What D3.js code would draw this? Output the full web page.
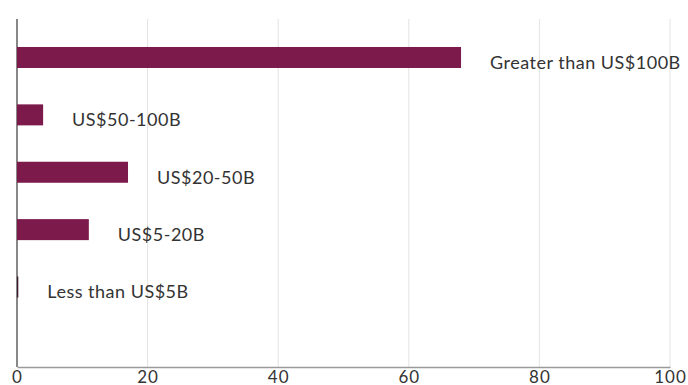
<!DOCTYPE html>
<html>
<head>
<meta charset="utf-8">
<script src="https://cdn.jsdelivr.net/npm/d3@7"></script>
<style>
  body { margin: 0; background: #fff; }
  text { font-family: "Lato", "Open Sans", sans-serif; }
</style>
</head>
<body>
<script>
// data
const categories = ["Greater than US$100B", "US$50-100B", "US$20-50B", "US$5-20B", "Less than US$5B"];
const values = [68, 4, 17, 11, 0.2];
const tickValues = [0, 20, 40, 60, 80, 100];

const width = 688, height = 385;
const svg = d3.select("body").append("svg")
    .attr("width", width)
    .attr("height", height);

const x = d3.scaleLinear().domain([0, 100]).range([17, 670]);
const y = d3.scaleBand().domain(categories)
    .range([28.8, 315.7])
    .paddingInner(0.634)
    .paddingOuter(0.317);

const plotTop = 19, plotBottom = 367;

// gridlines
svg.append("g").selectAll("line")
    .data(tickValues.slice(1))
    .enter().append("line")
    .attr("x1", d => x(d)).attr("x2", d => x(d))
    .attr("y1", plotTop).attr("y2", plotBottom)
    .attr("stroke", "#e3e3e3")
    .attr("stroke-width", 1);

// x axis
const xAxis = d3.axisBottom(x).tickValues(tickValues).tickSize(0).tickPadding(4);
const gx = svg.append("g").attr("transform", "translate(0," + plotBottom + ")").call(xAxis);
gx.select(".domain").attr("stroke", "#9a9a9a").attr("stroke-width", 1.3);
gx.selectAll("text")
    .attr("font-size", 17)
    .attr("fill", "#333")
    .style("letter-spacing", "1px")
    .style("font-family", "Lato, sans-serif");

// left axis line
svg.append("line")
    .attr("x1", x(0)).attr("x2", x(0))
    .attr("y1", plotTop).attr("y2", plotBottom)
    .attr("stroke", "#555")
    .attr("stroke-width", 1.4);

// bars
svg.append("g").selectAll("rect")
    .data(values)
    .enter().append("rect")
    .attr("x", x(0))
    .attr("y", (d, i) => y(categories[i]))
    .attr("width", d => Math.max(1, x(d) - x(0)))
    .attr("height", y.bandwidth())
    .attr("fill", (d, i) => d < 1 ? "#3a1a2a" : "#7b1a4b");

// labels
svg.append("g").selectAll("text")
    .data(values)
    .enter().append("text")
    .attr("x", d => x(d) + 29)
    .attr("y", (d, i) => y(categories[i]) + y.bandwidth() / 2 + 5)
    .attr("dy", "0.36em")
    .attr("font-size", 18)
    .attr("fill", "#333")
    .style("letter-spacing", "0.5px")
    .text((d, i) => categories[i]);
</script>
</body>
</html>
